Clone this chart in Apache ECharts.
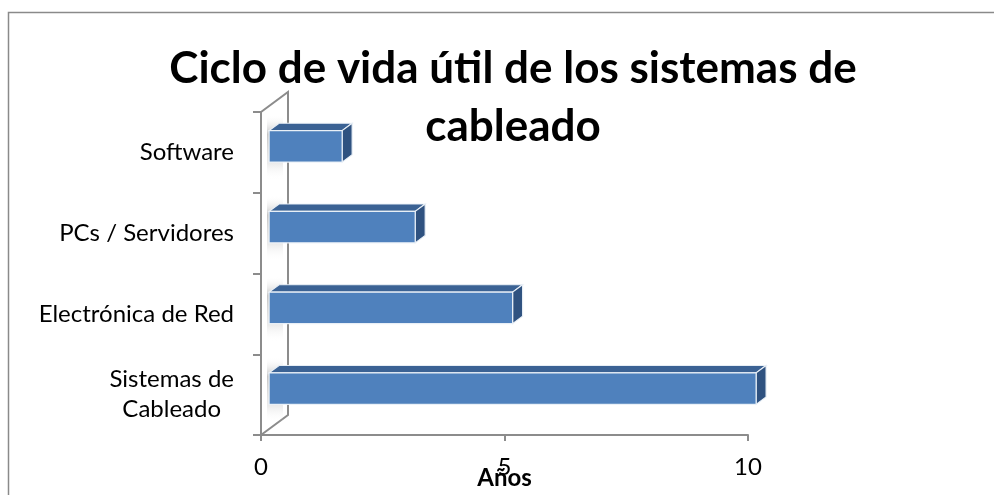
<!DOCTYPE html>
<html>
<head>
<meta charset="utf-8">
<script src="https://cdn.jsdelivr.net/npm/echarts@6/dist/echarts.min.js"></script>
<style>
html,body{margin:0;padding:0;background:#fff;}
#c{width:994px;height:495px;}
</style>
</head>
<body>
<div id="c"></div>
<script>
// Data
const categories = ['Sistemas de Cableado', 'Electrónica de Red', 'PCs / Servidores', 'Software'];
const years = [10, 5, 3, 1.5];
const xTicks = [0, 5, 10];
const titleText = 'Ciclo de vida útil de los sistemas de\ncableado';
const xName = 'Años';

const chart = echarts.init(document.getElementById('c'));

const DEPTH = [27, -20];   // oblique depth vector of the 3D walls
const D0 = 0.3, D1 = 0.67; // bar depth range
const BAR_FRAC = 0.39;

function renderWall(params, api) {
  const cs = params.coordSys;
  const x0 = cs.x, y0 = cs.y, y1 = cs.y + cs.height;
  return {
    type: 'polyline',
    shape: { points: [[x0, y0], [x0 + DEPTH[0], y0 + DEPTH[1]], [x0 + DEPTH[0], y1 + DEPTH[1]], [x0, y1]] },
    style: { stroke: '#8c8c8c', lineWidth: 2, fill: null },
    z2: 1
  };
}

function renderBar(params, api) {
  const v = api.value(0), cat = api.value(1);
  const base = api.coord([0, cat]);
  const end = api.coord([v, cat]);
  const band = api.size([0, 1])[1];
  const h = band * BAR_FRAC;
  const fx0 = base[0] + D0 * DEPTH[0];
  const fx1 = end[0] + D0 * DEPTH[0];
  const yTop = base[1] - h / 2 + D0 * DEPTH[1];
  const yBot = yTop + h;
  const dx = (D1 - D0) * DEPTH[0], dy = (D1 - D0) * DEPTH[1];
  const edge = { stroke: 'rgba(235,241,248,0.95)', lineWidth: 1.2 };
  const wx = base[0] + 6;
  return {
    type: 'group',
    children: [
      {
        type: 'rect',
        shape: { x: wx, y: yTop - 16, width: 16, height: h + 34 },
        style: {
          fill: new echarts.graphic.LinearGradient(0, 0, 0, 1, [
            { offset: 0, color: 'rgba(255,255,255,0)' },
            { offset: 0.3, color: 'rgba(150,150,150,0.55)' },
            { offset: 0.75, color: 'rgba(200,200,200,0.35)' },
            { offset: 1, color: 'rgba(255,255,255,0)' }
          ])
        },
        z2: 0
      },
      {
        type: 'polygon',
        shape: { points: [[fx0, yTop], [fx1, yTop], [fx1 + dx, yTop + dy], [fx0 + dx, yTop + dy]] },
        style: Object.assign({ fill: '#3b6294' }, edge),
        z2: 5
      },
      {
        type: 'polygon',
        shape: { points: [[fx1, yTop], [fx1 + dx, yTop + dy], [fx1 + dx, yBot + dy], [fx1, yBot]] },
        style: Object.assign({ fill: '#2f5280' }, edge),
        z2: 5
      },
      {
        type: 'rect',
        shape: { x: fx0, y: yTop, width: fx1 - fx0, height: h },
        style: Object.assign({ fill: '#4f81bd' }, edge),
        z2: 6
      }
    ]
  };
}

const option = {
  animation: false,
  backgroundColor: '#fff',
  textStyle: { fontFamily: 'Lato' },
  graphic: [{
    type: 'rect',
    shape: { x: 8.5, y: 12.5, width: 1000, height: 500 },
    style: { fill: null, stroke: '#8a8a8a', lineWidth: 1.5 },
    silent: true
  }],
  title: {
    text: titleText,
    left: 508,
    top: 35,
    textAlign: 'center',
    textStyle: { fontFamily: 'Lato', fontWeight: 'bold', fontSize: 44, lineHeight: 58, color: '#000' }
  },
  grid: { left: 261, right: 246, top: 112, bottom: 60, containLabel: false, outerBoundsMode: 'none' },
  xAxis: {
    type: 'value',
    min: 0, max: 10, interval: 5,
    name: xName,
    nameLocation: 'middle',
    nameGap: 31,
    nameMoveOverlap: false,
    nameTextStyle: { fontFamily: 'Lato', fontWeight: 'bold', fontSize: 24, color: '#000' },
    axisLine: { show: true, lineStyle: { color: '#8c8c8c', width: 2 } },
    axisTick: { show: true, length: 6, lineStyle: { color: '#8c8c8c', width: 2 } },
    axisLabel: {
      margin: 20, fontSize: 24, color: '#000', fontFamily: 'Lato',
      customValues: xTicks
    },
    splitLine: { show: false }
  },
  yAxis: {
    type: 'category',
    data: categories,
    axisLine: { show: true, lineStyle: { color: '#8c8c8c', width: 2 } },
    axisTick: { show: true, length: 8, lineStyle: { color: '#8c8c8c', width: 2 } },
    axisLabel: {
      margin: 27, fontSize: 24, color: '#000', fontFamily: 'Lato',
      formatter: function (v) {
        if (v === 'Sistemas de Cableado') return '{c|Sistemas de}\n{c|Cableado}';
        return v;
      },
      rich: { c: { align: 'center', fontSize: 24, lineHeight: 30, fontFamily: 'Lato', color: '#000' } }
    }
  },
  series: [
    {
      type: 'custom',
      renderItem: renderWall,
      data: [[0, 0]],
      encode: { x: 0, y: 1 },
      silent: true,
      z: 1
    },
    {
      type: 'custom',
      renderItem: renderBar,
      data: years.map((v, i) => [v, i]),
      encode: { x: 0, y: 1 },
      z: 2
    }
  ]
};
chart.setOption(option);
</script>
</body>
</html>
